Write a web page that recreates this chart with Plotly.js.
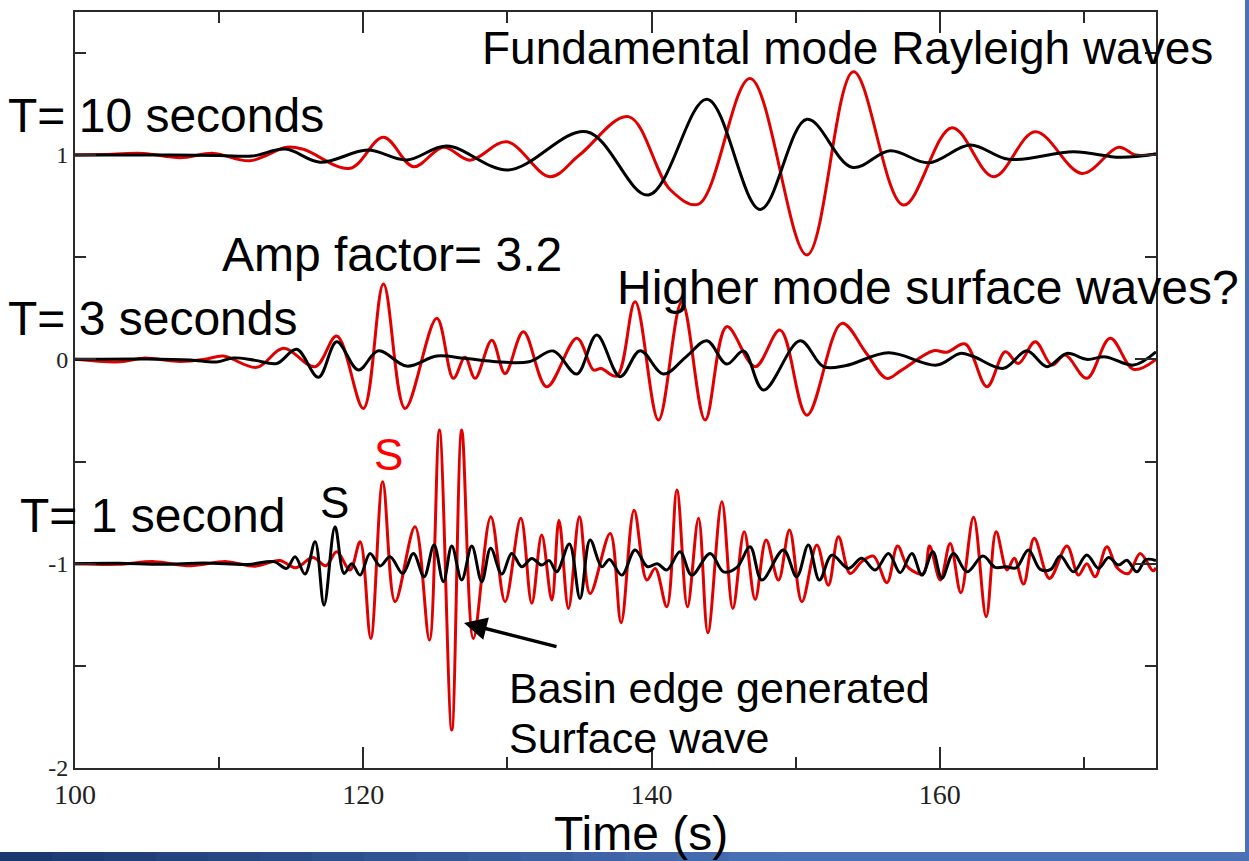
<!DOCTYPE html>
<html>
<head>
<meta charset="utf-8">
<script src="https://cdn.plot.ly/plotly-3.0.1.min.js"></script>
<style>
  html, body { margin: 0; padding: 0; background: #ffffff; }
  #chart { width: 1249px; height: 861px; }
</style>
</head>
<body>
<div id="chart"></div>
<script>
// ---------------- DATA ----------------
// Time axis ticks
const xTickVals = [100, 120, 140, 160];
const xTickText = ['100', '120', '140', '160'];
const yTickVals = [-2, -1, 0, 1];
const yTickText = ['-2', '-1', '0', '1'];

// T = 10 s band (plotted around +1)
const t10RedT = [100.0, 102.0, 104.74, 107.29, 109.60, 112.14, 114.69, 115.85, 119.08, 121.40, 123.48, 125.56, 127.41, 129.96, 132.96, 135.0, 138.40, 141.3, 143.26, 146.84, 150.78, 154.01, 157.48, 160.84, 163.73, 166.62, 169.86, 172.40, 173.6, 175.0];
const t10RedV = [1.0, 1.003, 1.008, 0.987, 1.008, 0.972, 1.038, 1.028, 0.935, 1.087, 0.943, 1.038, 0.975, 1.065, 0.894, 1.0, 1.188, 0.83, 0.760, 1.375, 0.511, 1.408, 0.755, 1.134, 0.894, 1.114, 0.910, 1.038, 1.0, 1.005];
const t10BlkT = [100.0, 105.0, 110.0, 112.3, 114.6, 117.0, 120.3, 123.02, 125.8, 130.07, 135.50, 139.78, 143.84, 147.54, 150.78, 153.90, 156.56, 159.22, 162.11, 164.77, 169.28, 172.52, 175.0];
const t10BlkV = [1.0, 1.0, 0.998, 0.995, 1.029, 0.965, 1.024, 0.976, 1.044, 0.927, 1.114, 0.804, 1.273, 0.734, 1.175, 0.940, 1.021, 0.962, 1.049, 0.979, 1.016, 0.989, 1.005];

// T = 3 s band (plotted around 0)
const t3RedT = [100.0, 103.12, 104.74, 107.29, 109.0, 110.29, 112.61, 114.46, 116.66, 118.16, 120.01, 121.40, 122.90, 125.10, 126.25, 127.06, 127.76, 128.92, 129.84, 131.11, 132.73, 134.82, 135.97, 136.5, 137.59, 138.86, 140.48, 142.10, 143.72, 145.22, 147.19, 148.92, 150.78, 153.20, 154.9, 156.31, 157.3, 159.56, 160.5, 161.76, 163.27, 164.54, 165.46, 166.62, 167.78, 168.70, 170.20, 171.82, 173.44, 175.0];
const t3RedV = [0.0, -0.012, 0.006, -0.010, 0.0, 0.016, -0.039, 0.054, -0.036, 0.114, -0.240, 0.369, -0.240, 0.201, -0.093, 0.010, -0.093, 0.094, -0.069, 0.135, -0.134, 0.103, -0.052, -0.045, -0.082, 0.282, -0.297, 0.282, -0.297, 0.160, -0.036, 0.143, -0.273, 0.176, 0.030, -0.093, -0.055, 0.042, 0.035, 0.075, -0.134, 0.037, -0.020, 0.086, -0.028, 0.021, -0.093, 0.103, -0.049, 0.0];
const t3BlkT = [100.0, 105.0, 108.0, 109.83, 110.99, 112.5, 114.0, 115.38, 116.89, 118.16, 119.66, 121.05, 123.01, 125.10, 127.0, 129.0, 131.5, 133.19, 134.81, 136.20, 137.82, 139.21, 140.83, 142.45, 143.84, 145.22, 146.38, 147.77, 150.31, 151.93, 153.5, 156.44, 159.79, 161.41, 162.3, 164.42, 166.04, 167.43, 168.81, 170.2, 171.5, 173.44, 175.0];
const t3BlkV = [0.0, 0.002, -0.003, -0.013, 0.007, -0.005, -0.020, 0.049, -0.088, 0.086, -0.052, 0.042, -0.033, 0.016, 0.005, -0.010, -0.012, 0.041, -0.072, 0.119, -0.085, 0.042, -0.072, 0.016, 0.091, -0.023, 0.041, -0.150, 0.091, -0.036, -0.030, 0.032, -0.028, 0.029, 0.015, -0.044, 0.042, -0.036, 0.029, 0.0, 0.012, -0.028, 0.037];

// T = 1 s band (plotted around -1)
const t1RedT = [100.0, 103.0, 105.5, 108.0, 110.5, 112.5, 114.2, 115.3, 116.5, 117.4, 118.16, 119.08, 119.78, 120.52, 121.35, 122.21, 123.59, 124.59, 125.28, 126.14, 126.83, 127.64, 128.85, 129.84, 130.93, 131.69, 132.38, 133.08, 133.58, 134.24, 135.00, 135.74, 137.13, 137.89, 138.79, 139.67, 140.25, 141.06, 141.76, 142.49, 143.26, 143.91, 144.88, 145.64, 146.43, 147.19, 147.95, 148.81, 149.57, 150.43, 151.47, 152.27, 152.97, 153.78, 154.59, 155.40, 156.33, 157.07, 157.83, 158.87, 159.29, 160.03, 160.72, 161.46, 162.34, 163.22, 163.91, 164.66, 165.17, 165.81, 166.55, 167.61, 168.82, 169.62, 170.2, 170.78, 171.59, 172.3, 173.09, 173.90, 174.79, 175.0];
const t1RedV = [-1.0, -1.003, -0.990, -1.010, -0.990, -1.012, -0.985, -1.020, -0.970, -1.010, -0.942, -1.031, -0.893, -1.366, -0.599, -1.186, -0.819, -1.374, -0.346, -1.814, -0.346, -1.366, -0.770, -1.186, -0.778, -1.194, -0.860, -1.178, -0.787, -1.219, -0.770, -1.146, -0.852, -1.289, -0.738, -1.080, -1.023, -1.211, -0.640, -1.211, -0.778, -1.338, -0.697, -1.219, -0.844, -1.175, -0.884, -1.080, -0.835, -1.186, -0.909, -1.105, -0.868, -1.048, -0.990, -0.963, -1.093, -0.914, -1.021, -1.048, -0.914, -1.080, -0.901, -1.142, -0.773, -1.260, -0.844, -1.031, -0.974, -1.100, -0.876, -1.072, -0.914, -1.056, -1.0, -1.064, -0.917, -1.020, -1.048, -0.950, -1.035, -1.020];
const t1BlkT = [100.0, 103.0, 106.0, 109.0, 112.0, 113.8, 114.69, 115.27, 115.96, 116.66, 117.28, 118.04, 118.67, 119.2, 119.78, 120.47, 121.17, 121.86, 122.74, 123.48, 124.22, 124.91, 125.56, 126.14, 126.83, 127.53, 128.22, 128.84, 129.61, 130.30, 131.0, 131.69, 132.38, 132.9, 133.42, 134.30, 135.04, 135.74, 136.55, 137.08, 137.94, 138.86, 139.72, 140.4, 141.06, 141.98, 142.79, 144.07, 144.99, 145.92, 146.84, 147.65, 149.15, 150.07, 150.88, 151.65, 152.51, 153.66, 154.59, 155.52, 156.44, 157.25, 158.06, 158.76, 159.52, 160.14, 160.95, 161.88, 162.99, 163.84, 164.6, 165.3, 166.15, 166.97, 167.7, 168.36, 169.28, 170.20, 171.01, 171.71, 172.40, 172.98, 173.67, 174.3, 175.0];
const t1BlkV = [-1.0, -0.998, -1.003, -0.997, -1.004, -0.990, -1.023, -0.966, -1.051, -0.893, -1.203, -0.819, -1.048, -1.0, -1.056, -0.950, -1.011, -0.966, -1.048, -0.950, -1.064, -0.909, -1.088, -0.914, -1.080, -0.914, -1.088, -0.925, -1.051, -0.950, -1.015, -0.975, -1.007, -0.985, -1.040, -0.904, -1.170, -0.884, -1.015, -0.979, -1.056, -0.933, -1.015, -1.0, -1.031, -0.942, -1.056, -0.950, -1.040, -1.018, -0.917, -1.080, -0.933, -1.064, -0.909, -1.080, -0.958, -1.023, -0.974, -1.031, -0.950, -1.044, -0.950, -1.056, -0.942, -1.072, -0.950, -1.040, -0.963, -1.018, -1.015, -1.020, -0.933, -1.028, -1.028, -0.963, -1.040, -0.958, -1.023, -0.970, -1.007, -0.983, -1.040, -0.980, -0.985];

// ---------------- STYLE / LAYOUT ----------------
const RED = '#e00000';
const BLACK = '#000000';
const SANS = 'Liberation Sans, Arial, Helvetica, sans-serif';
const SERIF = 'Liberation Serif, Times New Roman, serif';

function wave(x, y, color) {
  return {
    type: 'scatter', mode: 'lines', x: x, y: y,
    line: { color: color, width: 3, shape: 'spline', smoothing: 1 },
    hoverinfo: 'skip', showlegend: false
  };
}

const traces = [
  wave(t10RedT, t10RedV, RED),
  wave(t3RedT, t3RedV, RED),
  wave(t1RedT, t1RedV, RED),
  wave(t10BlkT, t10BlkV, BLACK),
  wave(t3BlkT, t3BlkV, BLACK),
  wave(t1BlkT, t1BlkV, BLACK)
];

// plot-area geometry in page pixels
const W = 1249, H = 861;
const L = 75, R = 1156, T = 12, B = 768;
const PW = R - L, PH = B - T;
const px = p => (p - L) / PW;      // page x pixel -> paper x
const py = p => (B - p) / PH;      // page y pixel -> paper y

function label(text, x, y, size, color, anchor) {
  return {
    xref: 'paper', yref: 'paper', x: px(x), y: py(y),
    xanchor: anchor || 'left', yanchor: 'middle',
    text: text, showarrow: false,
    font: { family: SANS, size: size, color: color || '#000' }
  };
}

const annotations = [
  label('Fundamental mode Rayleigh waves', 480, 48, 46),
  label('T= 10 seconds', 6, 115, 48),
  label('Amp factor= 3.2', 220, 255, 48),
  label('Higher mode surface waves?', 615, 287, 48),
  label('T= 3 seconds', 6, 318, 48),
  label('T= 1 second', 18, 515, 48),
  label('S', 388, 454, 44, '#ff0000', 'center'),
  label('S', 334, 502, 44, '#000', 'center'),
  label('Basin edge generated', 507, 688, 43),
  label('Surface wave', 507, 738, 43),
  label('Time (s)', 641, 833, 48, '#000', 'center'),
  {
    xref: 'paper', yref: 'paper', x: px(464), y: py(623),
    ax: 94, ay: 24, axref: 'pixel', ayref: 'pixel',
    text: '', showarrow: true, arrowhead: 2, arrowsize: 1.3, arrowwidth: 3.5,
    arrowcolor: '#000'
  }
];

// blue slide frame (bottom gradient band + thin right strip)
const shapes = [];
const nSteps = 24;
const c0 = [26, 56, 112], c1 = [74, 112, 182];
for (let i = 0; i < nSteps; i++) {
  const f = i / (nSteps - 1);
  const c = c0.map((v, k) => Math.round(v + (c1[k] - v) * Math.min(1, f * 1.6)));
  shapes.push({
    type: 'rect', xref: 'paper', yref: 'paper', layer: 'below',
    x0: px(i * W / nSteps), x1: px((i + 1) * W / nSteps + 1),
    y0: py(852), y1: py(H + 2),
    line: { width: 0 }, fillcolor: 'rgb(' + c.join(',') + ')'
  });
}
shapes.push({
  type: 'rect', xref: 'paper', yref: 'paper', layer: 'below',
  x0: px(1245), x1: px(W + 2), y0: py(H + 2), y1: py(-2),
  line: { width: 0 }, fillcolor: 'rgb(74,112,182)'
});

const axisCommon = {
  showgrid: false, zeroline: false,
  showline: true, linecolor: '#2a2a2a', linewidth: 2, mirror: 'ticks',
  ticks: 'inside', ticklen: 21, tickwidth: 2, tickcolor: '#2a2a2a',
  tickfont: { family: SERIF, size: 28, color: '#222' },
  fixedrange: true
};

const layout = {
  width: W, height: H,
  margin: { l: L, r: W - R, t: T, b: H - B, pad: 0 },
  paper_bgcolor: '#ffffff', plot_bgcolor: '#ffffff',
  showlegend: false,
  xaxis: Object.assign({}, axisCommon, {
    range: [100, 175],
    tickmode: 'array', tickvals: xTickVals, ticktext: xTickText,
    minor: { tick0: 100, dtick: 10, ticks: 'inside', ticklen: 11, tickwidth: 2, tickcolor: '#2a2a2a' }
  }),
  yaxis: Object.assign({}, axisCommon, {
    range: [-2, 1.7],
    tickmode: 'array', tickvals: yTickVals, ticktext: yTickText,
    tickfont: { family: SERIF, size: 24, color: '#222' },
    minor: { tick0: -2, dtick: 0.5, ticks: 'inside', ticklen: 11, tickwidth: 2, tickcolor: '#2a2a2a' }
  }),
  annotations: annotations,
  shapes: shapes
};

Plotly.newPlot('chart', traces, layout, { staticPlot: true, displayModeBar: false });
</script>
</body>
</html>
